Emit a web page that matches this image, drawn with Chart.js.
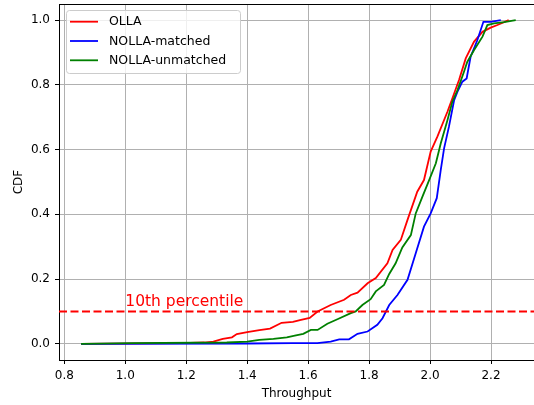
<!DOCTYPE html>
<html>
<head>
<meta charset="utf-8">
<script src="https://cdn.jsdelivr.net/npm/chart.js@4/dist/chart.umd.min.js"></script>
<style>
  html, body { margin: 0; padding: 0; background: #fff; }
</style>
</head>
<body>
<canvas id="chartCanvas" width="534" height="405"></canvas>
<script>
// data (throughput vs CDF)
const ollaX = [0.855, 1.19, 1.26, 1.289, 1.32, 1.35, 1.366, 1.40, 1.44, 1.475, 1.513, 1.55, 1.573, 1.605, 1.631, 1.674, 1.718, 1.74, 1.762, 1.795, 1.822, 1.86, 1.877, 1.904, 1.926, 1.958, 1.98, 2.002, 2.024, 2.057, 2.073, 2.095, 2.117, 2.144, 2.172, 2.199, 2.221, 2.258];
const ollaY = [0, 0.002, 0.004, 0.007, 0.015, 0.02, 0.03, 0.036, 0.042, 0.047, 0.065, 0.068, 0.073, 0.08, 0.10, 0.12, 0.136, 0.151, 0.158, 0.187, 0.203, 0.249, 0.29, 0.321, 0.383, 0.47, 0.506, 0.594, 0.64, 0.717, 0.758, 0.815, 0.882, 0.933, 0.964, 0.977, 0.985, 1.0];

const matchedX = [0.855, 1.40, 1.55, 1.63, 1.674, 1.702, 1.734, 1.762, 1.795, 1.827, 1.844, 1.866, 1.893, 1.926, 1.953, 1.98, 2.002, 2.022, 2.035, 2.046, 2.062, 2.079, 2.09, 2.106, 2.12, 2.133, 2.155, 2.175, 2.199, 2.232];
const matchedY = [0, 0.001, 0.002, 0.002, 0.007, 0.014, 0.014, 0.031, 0.038, 0.059, 0.079, 0.12, 0.151, 0.198, 0.28, 0.362, 0.403, 0.45, 0.537, 0.604, 0.671, 0.753, 0.779, 0.81, 0.82, 0.887, 0.938, 0.995, 0.995, 1.0];

const unmatchedX = [0.855, 1.02, 1.333, 1.40, 1.44, 1.486, 1.53, 1.56, 1.584, 1.609, 1.631, 1.663, 1.696, 1.74, 1.756, 1.778, 1.805, 1.822, 1.849, 1.866, 1.887, 1.909, 1.937, 1.953, 1.975, 1.997, 2.019, 2.035, 2.057, 2.073, 2.09, 2.111, 2.122, 2.144, 2.172, 2.188, 2.21, 2.243, 2.281];
const unmatchedY = [0, 0.002, 0.004, 0.007, 0.0125, 0.015, 0.02, 0.026, 0.031, 0.043, 0.043, 0.062, 0.076, 0.095, 0.10, 0.12, 0.138, 0.162, 0.182, 0.216, 0.249, 0.298, 0.336, 0.403, 0.455, 0.506, 0.558, 0.619, 0.691, 0.748, 0.784, 0.84, 0.871, 0.907, 0.949, 0.985, 0.99, 0.994, 1.0];

const seriesNames = ["OLLA", "NOLLA-matched", "NOLLA-unmatched"];
const seriesColors = ["#ff0000", "#0000ff", "#008000"];

const xTicks = [0.8, 1.0, 1.2, 1.4, 1.6, 1.8, 2.0, 2.2];
const yTicks = [0.0, 0.2, 0.4, 0.6, 0.8, 1.0];
const xMin = 0.7826, xMax = 2.341;
const yMin = -0.05, yMax = 1.05;

const percentileValue = 0.1;
const percentileLabel = "10th percentile";

const FONT = "'DejaVu Sans', sans-serif";

function toPoints(xs, ys) {
    return xs.map((x, i) => ({ x: x, y: ys[i] }));
}

// frame (top spine), annotation text and the boxed legend
const extrasPlugin = {
    id: "extras",
    afterDatasetsDraw(chart) {
        const ctx = chart.ctx;
        const a = chart.chartArea;
        const xs = chart.scales.x, ys = chart.scales.y;
        ctx.save();
        ctx.fillStyle = "#ff0000";
        ctx.font = "15.5px " + FONT;
        ctx.textAlign = "left";
        ctx.textBaseline = "alphabetic";
        ctx.fillText(percentileLabel, xs.getPixelForValue(1.0), ys.getPixelForValue(0.117));
        // top spine
        ctx.strokeStyle = "#000";
        ctx.lineWidth = 1;
        ctx.beginPath();
        ctx.moveTo(a.left, a.top + 0.5);
        ctx.lineTo(a.right, a.top + 0.5);
        ctx.stroke();
        ctx.restore();
    },
    afterDraw(chart) {
        const ctx = chart.ctx;
        const a = chart.chartArea;
        const x0 = a.left + 7, y0 = a.top + 6, w = 174, h = 63;
        ctx.save();
        ctx.beginPath();
        ctx.roundRect(x0 + 0.5, y0 + 0.5, w, h, 3);
        ctx.fillStyle = "rgba(255,255,255,0.8)";
        ctx.fill();
        ctx.strokeStyle = "#cccccc";
        ctx.lineWidth = 1;
        ctx.stroke();
        ctx.font = "12.5px " + FONT;
        ctx.textBaseline = "middle";
        ctx.textAlign = "left";
        seriesNames.forEach((name, i) => {
            const y = y0 + 11.7 + i * 19.3;
            ctx.strokeStyle = seriesColors[i];
            ctx.lineWidth = 1.8;
            ctx.beginPath();
            ctx.moveTo(x0 + 4, y);
            ctx.lineTo(x0 + 32, y);
            ctx.stroke();
            ctx.fillStyle = "#000";
            ctx.fillText(name, x0 + 43, y + 0.5);
        });
        ctx.restore();
    }
};

new Chart("chartCanvas", {
    type: "line",
    data: {
        datasets: [
            { label: seriesNames[0], data: toPoints(ollaX, ollaY), borderColor: seriesColors[0], order: 2 },
            { label: seriesNames[1], data: toPoints(matchedX, matchedY), borderColor: seriesColors[1], order: 1 },
            { label: seriesNames[2], data: toPoints(unmatchedX, unmatchedY), borderColor: seriesColors[2], order: 0 },
            {
                label: percentileLabel,
                data: [{ x: xMin, y: percentileValue }, { x: xMax, y: percentileValue }],
                borderColor: "#ff0000", borderDash: [8, 3.5], borderWidth: 2, order: -1
            }
        ]
    },
    options: {
        responsive: false,
        animation: false,
        layout: { padding: { top: 4, right: 0, left: 0, bottom: 0 } },
        elements: {
            line: { borderWidth: 1.8, tension: 0, fill: false },
            point: { radius: 0, hoverRadius: 0 }
        },
        plugins: {
            legend: { display: false },
            tooltip: { enabled: false }
        },
        scales: {
            x: {
                type: "linear",
                min: xMin,
                max: xMax,
                afterBuildTicks: s => { s.ticks = xTicks.map(v => ({ value: v })); },
                afterFit: s => { s.height = 45; s.paddingLeft = 0; s.paddingRight = 0; },
                ticks: {
                    callback: v => v.toFixed(1),
                    color: "#000",
                    font: { family: FONT, size: 12 },
                    padding: 5,
                    maxRotation: 0,
                    autoSkip: false
                },
                grid: { color: "#b0b0b0", lineWidth: 1, tickColor: "#000", tickLength: 4 },
                border: { color: "#000", width: 1 },
                title: {
                    display: true,
                    text: "Throughput",
                    color: "#000",
                    font: { family: FONT, size: 12 },
                    padding: { top: 0, bottom: 4 }
                }
            },
            y: {
                type: "linear",
                min: yMin,
                max: yMax,
                afterBuildTicks: s => { s.ticks = yTicks.map(v => ({ value: v })); },
                afterFit: s => { s.width = 59; s.paddingTop = 0; s.paddingBottom = 0; },
                ticks: {
                    callback: v => v.toFixed(1),
                    color: "#000",
                    font: { family: FONT, size: 12 },
                    padding: 5,
                    autoSkip: false
                },
                grid: { color: "#b0b0b0", lineWidth: 1, tickColor: "#000", tickLength: 4 },
                border: { color: "#000", width: 1 },
                title: {
                    display: true,
                    text: "CDF",
                    color: "#000",
                    font: { family: FONT, size: 12 },
                    padding: { top: 12, bottom: 0 }
                }
            }
        }
    },
    plugins: [extrasPlugin]
});
</script>
</body>
</html>
